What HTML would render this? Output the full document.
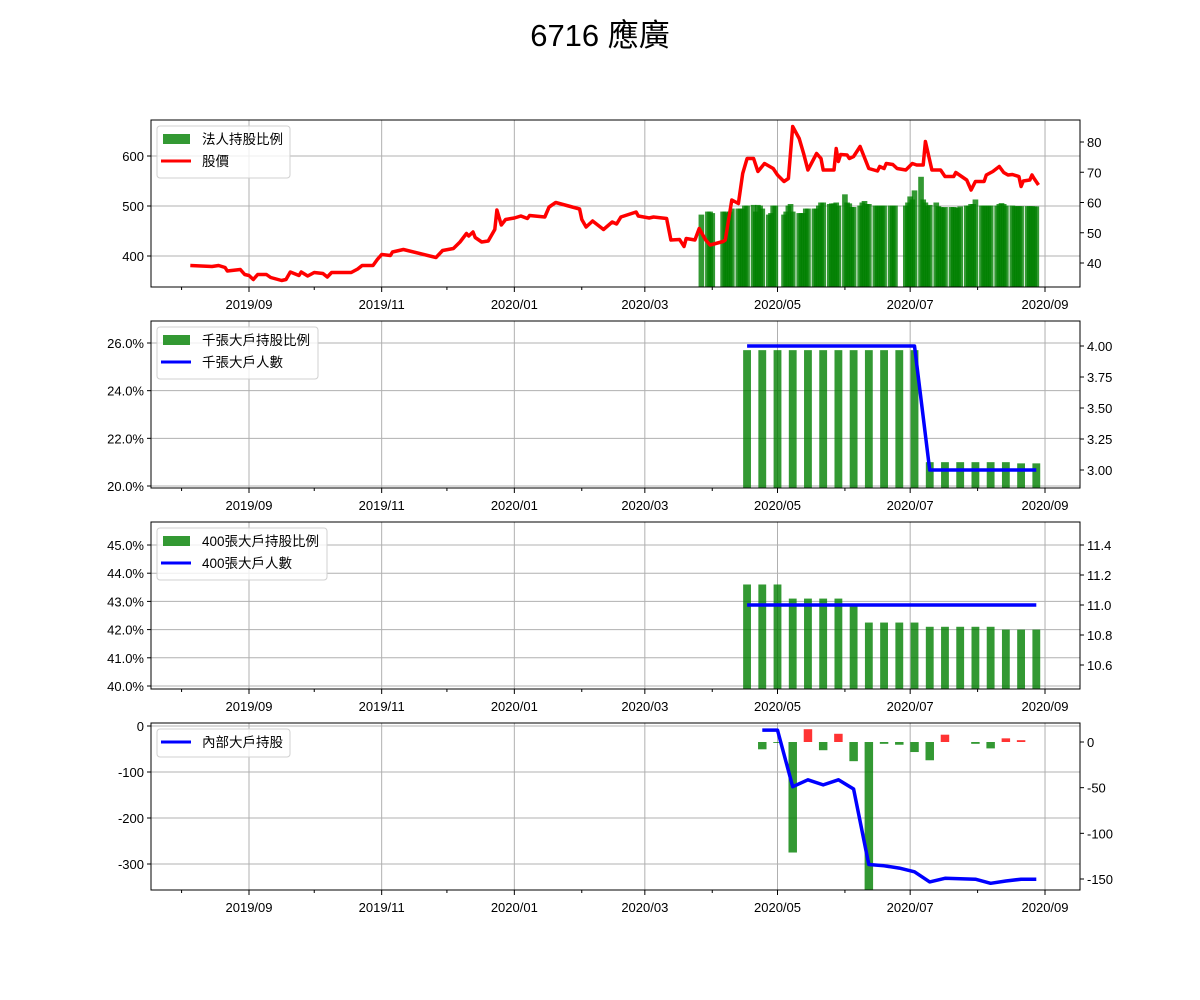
<!DOCTYPE html>
<html><head><meta charset="utf-8"><style>
html,body{margin:0;padding:0;background:#fff;overflow:hidden;width:1200px;height:1000px;}
svg{display:block;}
svg text{font-family:"Liberation Sans","Noto Sans CJK TC",sans-serif;}
</style></head><body>
<svg id="chart" width="1200" height="1000" xmlns="http://www.w3.org/2000/svg">
<rect width="1200" height="1000" fill="#fff"/>
<text x="600" y="46" text-anchor="middle" font-size="31" fill="#000">6716 應廣</text>
</svg>
<script>
// ---- data ----
const priceDays=[-27,-17,-14,-11,-10,-4,-2,0,2,4,8,10,15,17,19,23,24,27,30,34,36,38,47,50,52,57,59,61,65,66,71,86,89,94,97,100,101,103,104,107,110,113,114,116,118,122,125,128,129,136,138,141,152,153,155,158,163,167,169,171,178,179,184,186,192,194,198,200,201,205,207,210,212,218,219,222,225,227,229,232,234,237,241,243,246,248,250,253,255,257,261,263,264,269,270,271,272,275,276,278,281,285,289,290,292,293,296,298,302,305,307,310,311,314,318,320,324,325,330,332,334,338,339,342,345,347,349,351,354,355,356,359,360,361,363];
const priceVals=[381,379,381,377,370,373,363,361,353,363,363,357,351,353,368,361,368,360,367,365,358,367,367,374,381,381,393,403,401,408,413,397,411,415,428,445,440,448,437,428,430,453,492,462,473,476,480,475,481,478,498,507,494,473,458,470,453,468,464,478,488,480,476,478,475,432,433,419,435,432,455,432,422,429,432,512,505,565,595,595,569,585,575,562,549,555,659,635,605,572,605,595,572,572,615,589,603,602,595,599,619,575,570,579,575,585,583,575,572,585,582,582,629,572,572,559,559,567,552,532,549,549,562,569,579,567,562,563,559,539,550,552,562,555,542];
const instStart="2020-03-27";
const instHolidays=["2020-04-02","2020-04-03","2020-05-01","2020-06-25","2020-06-26"];
const instVals=[56,57,57,56.5,57,57,56.5,57,58,58,58,58,59,59,59.2,57,59.2,59,58,56,56.5,59,59,56,57,59,59.5,57,56.5,56.5,56.5,58,58,58,58,59,60,60,59.5,59.7,59.7,60,59,62.7,60,59.7,58.5,58.5,59,60,60.5,59.5,59.5,59,59,59,59,59,59,59,59,59,60,62,61,64,68.5,61,60,59,59.2,60,58.8,58.5,58.3,58.5,58.5,58.5,58.3,58.3,58.7,59,59,59.5,59.5,61,59,59,59,59,59,59,59.5,59.8,59.5,59,59,58.8,58.8,58.8,58.8,58.8,58.8,58.8,58.7,58.7];
const weekStart="2020-04-17";
const bigPct=[25.7,25.7,25.7,25.7,25.7,25.7,25.7,25.7,25.7,25.7,25.7,25.7,21.0,21.0,21.0,21.0,21.0,21.0,20.95,20.95];
const bigCount=[4,4,4,4,4,4,4,4,4,4,4,4,3,3,3,3,3,3,3,3];
const p400Pct=[43.6,43.6,43.6,43.1,43.1,43.1,43.1,42.9,42.25,42.25,42.25,42.25,42.1,42.1,42.1,42.1,42.1,42.0,42.0,42.0];
const p400Count=[11,11,11,11,11,11,11,11,11,11,11,11,11,11,11,11,11,11,11,11];
const insiderStart="2020-04-24";
const insiderLine=[-9,-9,-132,-117,-128,-117,-137,-301,-304,-309,-317,-339,-331,-332,-333,-342,-337,-333,-333];
const insiderChg=[-8,-1,-121,14,-9,9,-21,-180,-2,-3,-11,-20,8,0,-2,-7,4,2,0];
const monthTicks=["2019-08","2019-09","2019-10","2019-11","2019-12","2020-01","2020-02","2020-03","2020-04","2020-05","2020-06","2020-07","2020-08","2020-09"];

// ---- geometry ----
const svg=document.getElementById('chart');
const NS="http://www.w3.org/2000/svg";
const X0=151,X1=1080;
const DAY=86400000, BASE=Date.UTC(2019,8,1);
function dayOf(s){const p=s.split('-');return (Date.UTC(+p[0],+p[1]-1,p[2]?+p[2]:1)-BASE)/DAY;}
function xs(d){return 249+d*2.1749;}
function mk(tag,attrs,parent){const e=document.createElementNS(NS,tag);for(const k in attrs)e.setAttribute(k,attrs[k]);(parent||svg).appendChild(e);return e;}
function lin(d0,d1,r0,r1){return v=>r0+(v-d0)*(r1-r0)/(d1-d0);}

const panels=[
 {top:120,bot:287,name:'price-panel'},
 {top:321,bot:488,name:'big-holder-panel'},
 {top:522,bot:689,name:'holder400-panel'},
 {top:723,bot:890,name:'insider-panel'}];

function frame(p,leftTicks,yL,fmtL,rightTicks,yR,fmtR){
  const g=mk('g',{});
  
  
  p.g=g;
  monthTicks.forEach((m,i)=>{const x=xs(dayOf(m));
    if(i%2===1){const l=mk('line',{x1:x,x2:x,y1:p.top,y2:p.bot,stroke:'#b0b0b0','stroke-width':1},g);
      
      const t=mk('text',{x:x,y:p.bot+22,'text-anchor':'middle','font-size':13,fill:'#000'},g);t.textContent=m.replace('-','/');
      }
    mk('line',{x1:x,x2:x,y1:p.bot,y2:p.bot+(i%2?5:3),stroke:'#000','stroke-width':1},g);
  });
  leftTicks.forEach(v=>{const y=yL(v);
    const l=mk('line',{x1:X0,x2:X1,y1:y,y2:y,stroke:'#b0b0b0','stroke-width':1},g);
    
    mk('line',{x1:X0-4,x2:X0,y1:y,y2:y,stroke:'#000'},g);
    const t=mk('text',{x:X0-7,y:y+5,'text-anchor':'end','font-size':13,fill:'#000'},g);t.textContent=fmtL(v);
    });
  rightTicks.forEach(v=>{const y=yR(v);
    mk('line',{x1:X1,x2:X1+4,y1:y,y2:y,stroke:'#000'},g);
    const t=mk('text',{x:X1+7,y:y+5,'text-anchor':'start','font-size':13,fill:'#000'},g);t.textContent=fmtR(v);
    });
  const cp=mk('clipPath',{id:'clip'+p.top},g);mk('rect',{x:X0,y:p.top,width:X1-X0,height:p.bot-p.top},cp);
  p.plot=mk('g',{'clip-path':'url(#clip'+p.top+')'},g);
}
function border(p){const r=mk('rect',{x:X0,y:p.top,width:X1-X0,height:p.bot-p.top,fill:'none',stroke:'#000','stroke-width':1},p.g);
  }
function legend(p,w,items){
  const g=mk('g',{},p.g);
  const h=items.length*22+8;
  mk('rect',{x:157,y:p.top+6,width:w,height:h,rx:3,fill:'#fff','fill-opacity':0.8,stroke:'#d0d0d0'},g);
  items.forEach((it,i)=>{const y=p.top+19+i*22;
    if(it.type==='bar'){mk('rect',{x:163,y:y-5,width:27,height:10,fill:'#008000','fill-opacity':0.8},g);}
    else{mk('line',{x1:161,x2:191,y1:y,y2:y,stroke:it.color,'stroke-width':3},g);}
    const t=mk('text',{x:202,y:y+5,'font-size':13.5,fill:'#000'},g);t.textContent=it.label;
    });
}
function weekDays(start,n){const d0=dayOf(start);return Array.from({length:n},(_,i)=>d0+7*i);}
function poly(p,days,vals,yf,color,name){
  const pts=days.map((d,i)=>xs(d).toFixed(1)+','+yf(vals[i]).toFixed(1)).join(' ');
  const l=mk('polyline',{points:pts,fill:'none',stroke:color,'stroke-width':3.5,'stroke-linejoin':'round'},p.plot);
  
}
function bars(p,days,vals,yf,base,widthDays,name,colorFn){
  days.forEach((d,i)=>{const v=vals[i];const y0=yf(base),y1=yf(v);
    const w=widthDays*2.1749;
    const r=mk('rect',{x:xs(d)-w/2,y:Math.min(y0,y1),width:w,height:Math.abs(y0-y1),fill:colorFn?colorFn(v):'#008000','fill-opacity':0.8},p.plot);
    });
}

// panel 1
const p1=panels[0];
const y1L=lin(400,600,256,156), y1R=lin(40,80,263,142);
frame(p1,[400,500,600],y1L,v=>v,[40,50,60,70,80],y1R,v=>v);
(function(){const days=[];let d=dayOf(instStart);const hol=instHolidays.map(dayOf);
  while(days.length<instVals.length){const wd=new Date(BASE+d*DAY).getUTCDay();
    if(wd!==0&&wd!==6&&hol.indexOf(d)<0)days.push(d);d++;}
  bars(p1,days,instVals,y1R,30,2.6,'inst-ratio-bar');})();
poly(p1,priceDays,priceVals,y1L,'#ff0000','price-line');
border(p1);
legend(p1,133,[{type:'bar',label:'法人持股比例'},{type:'line',color:'#ff0000',label:'股價'}]);

// panel 2
const p2=panels[1];
const y2L=lin(20,26,486,343), y2R=lin(3,4,470,346);
frame(p2,[20,22,24,26],y2L,v=>v.toFixed(1)+'%',[3,3.25,3.5,3.75,4],y2R,v=>v.toFixed(2));
const wk=weekDays(weekStart,20);
bars(p2,wk,bigPct,y2L,0,3.6,'big-holder-pct-bar');
poly(p2,wk,bigCount,y2R,'#0000ff','big-holder-count-line');
border(p2);
legend(p2,161,[{type:'bar',label:'千張大戶持股比例'},{type:'line',color:'#0000ff',label:'千張大戶人數'}]);

// panel 3
const p3=panels[2];
const y3L=lin(40,45,686,545), y3R=lin(10.6,11.4,665,545);
frame(p3,[40,41,42,43,44,45],y3L,v=>v.toFixed(1)+'%',[10.6,10.8,11,11.2,11.4],y3R,v=>v.toFixed(1));
bars(p3,wk,p400Pct,y3L,0,3.6,'holder400-pct-bar');
poly(p3,wk,p400Count,y3R,'#0000ff','holder400-count-line');
border(p3);
legend(p3,170,[{type:'bar',label:'400張大戶持股比例'},{type:'line',color:'#0000ff',label:'400張大戶人數'}]);

// panel 4
const p4=panels[3];
const y4L=lin(0,-300,726,864), y4R=lin(0,-150,742,879);
frame(p4,[0,-100,-200,-300],y4L,v=>v,[0,-50,-100,-150],y4R,v=>v);
const wk4=weekDays(insiderStart,19);
bars(p4,wk4,insiderChg,y4R,0,3.9,'insider-change-bar',v=>v>0?'#ff0000':'#008000');
poly(p4,wk4,insiderLine,y4L,'#0000ff','insider-holding-line');
border(p4);
(function(){const g=mk('g',{},p4.g);
  mk('rect',{x:157,y:729,width:133,height:28,rx:3,fill:'#fff','fill-opacity':0.8,stroke:'#d0d0d0'},g);
  mk('line',{x1:161,x2:191,y1:742,y2:742,stroke:'#0000ff','stroke-width':3},g);
  const t=mk('text',{x:202,y:747,'font-size':13.5,fill:'#000'},g);t.textContent='內部大戶持股';
  })();
</script>
</body></html>
